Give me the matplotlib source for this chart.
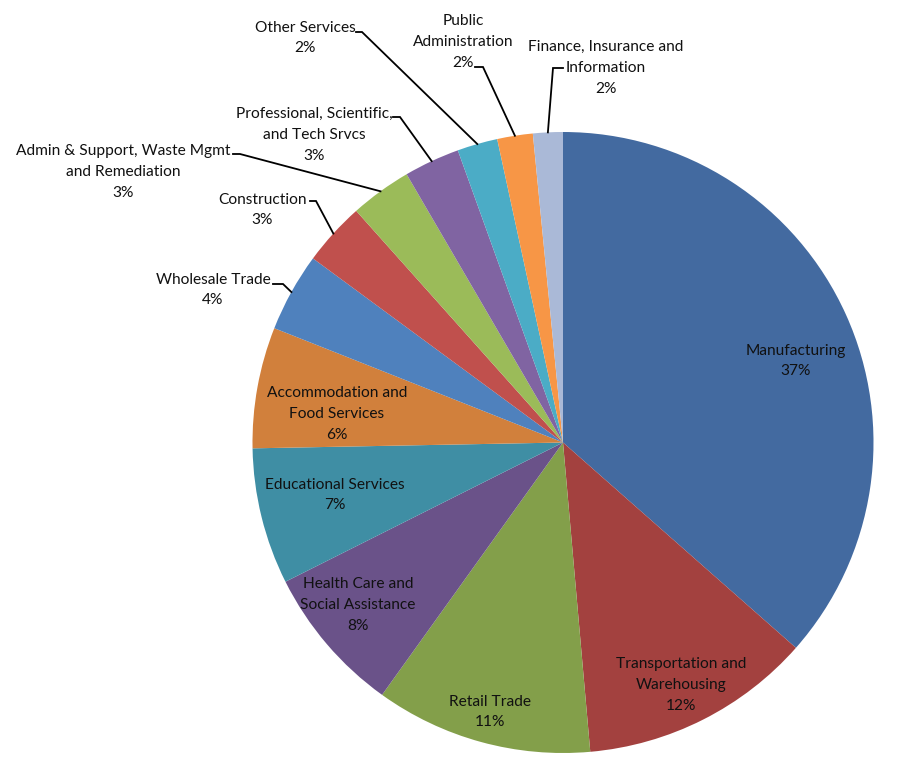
import numpy as np
import matplotlib
matplotlib.use('Agg')
import matplotlib.pyplot as plt

# slice values (clockwise from 12 o'clock)
industries = ['Manufacturing', 'Transportation and\nWarehousing', 'Retail Trade',
              'Health Care and\nSocial Assistance', 'Educational Services',
              'Accommodation and\nFood Services', 'Wholesale Trade', 'Construction',
              'Admin & Support, Waste Mgmt\nand Remediation',
              'Professional, Scientific,\nand Tech Srvcs', 'Other Services',
              'Public\nAdministration', 'Finance, Insurance and\nInformation']
shares = [36.5, 12.1, 11.3, 7.7, 7.1, 6.3, 4.1, 3.3, 3.2, 2.9, 2.1, 1.85, 1.55]
pct_labels = ['37%', '12%', '11%', '8%', '7%', '6%', '4%', '3%', '3%', '3%', '2%', '2%', '2%']

colors = ['#436AA0', '#A3413F', '#839F4A', '#6A5289', '#3F8EA4', '#D1803C',
          '#4F81BD', '#C0504D', '#9BBB59', '#8064A2', '#4BACC6', '#F79646', '#AAB9D7']

W, H = 905, 771
# label centre (pixels, y from top); leader: (start x, elbow x, y) or None
label_pos = [(796, 361), (681, 685), (490, 712), (358, 605), (335, 495), (337, 414),
             (213, 290), (262, 210), (123, 172), (314, 135), (305, 38), (463, 42), (606, 68)]
leaders = [None, None, None, None, None, None,
           (273, 283, 284), (310, 316, 201), (233, 240, 154), (393, 400, 117),
           (356, 362, 32), (475, 483, 67), (563, 553, 68)]

fig = plt.figure(figsize=(W / 100, H / 100), dpi=100)
ax = fig.add_axes([0, 0, 1, 1])

cx, cy, R = 563, H - 442.5, 310.5
wedges, _ = ax.pie(shares, colors=colors, startangle=90, counterclock=False,
                   center=(cx, cy), radius=R, wedgeprops=dict(linewidth=0),
                   frame=True)
ax.set_xlim(0, W)
ax.set_ylim(0, H)
ax.set_aspect('equal')
ax.axis('off')

for i, w in enumerate(wedges):
    tx, ty = label_pos[i]
    ax.text(tx, H - ty, industries[i] + '\n' + pct_labels[i], ha='center', va='center',
            fontsize=11.2, family='Lato', color='#111111', linespacing=1.62)
    if leaders[i] is not None:
        x0, x1, ly = leaders[i]
        mid = np.deg2rad((w.theta1 + w.theta2) / 2)
        rx, ry = cx + R * np.cos(mid), cy + R * np.sin(mid)
        ax.plot([x0, x1, rx], [H - ly, H - ly, ry], color='black', lw=1.3,
                solid_joinstyle='miter')

fig.savefig('out.png', dpi=100, facecolor='white')
